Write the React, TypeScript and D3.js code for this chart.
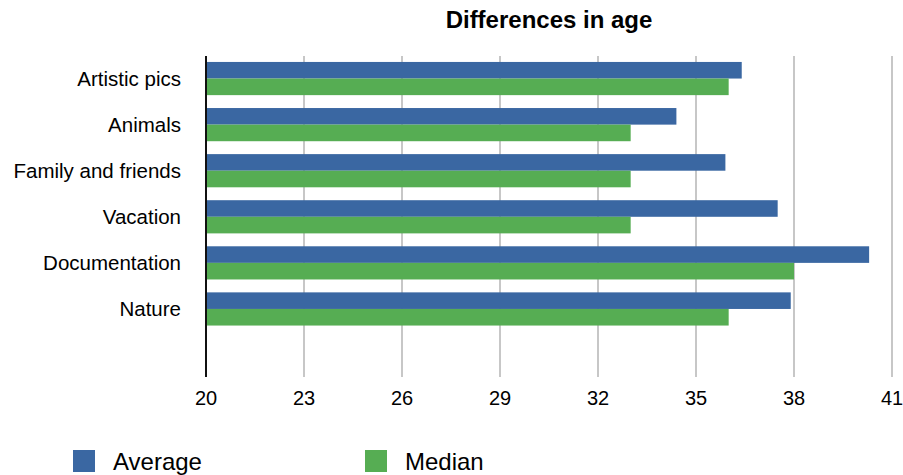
import { useEffect, useRef } from 'react';
import * as d3 from 'd3';

const categories = ['Artistic pics', 'Animals', 'Family and friends', 'Vacation', 'Documentation', 'Nature'];
const seriesNames = ['Average', 'Median'];
const averageValues = [36.4, 34.4, 35.9, 37.5, 40.3, 37.9];
const medianValues = [36, 33, 33, 33, 38, 36];
const xTicks = [20, 23, 26, 29, 32, 35, 38, 41];
const colors = ['#3a67a2', '#56ad53'];

const App = () => {
  const ref = useRef<SVGSVGElement | null>(null);

  useEffect(() => {
    if (!ref.current) return;
    const svg = d3.select(ref.current);
    svg.selectAll('*').remove();
    const width = 903;
    const height = 475;
    const font = '"Liberation Sans", Arial, Helvetica, sans-serif';

    svg.attr('width', width).attr('height', height).style('display', 'block');

    const x = d3.scaleLinear().domain([20, 41]).range([206, 892]);
    const y = d3
      .scaleBand<string>()
      .domain(categories)
      .range([55.5, 332])
      .paddingInner(0.28)
      .paddingOuter(0.14);
    const ySub = d3.scaleBand<string>().domain(seriesNames).range([0, y.bandwidth()]);

    const plotTop = 56;
    const plotBottom = 377;

    // title
    svg
      .append('text')
      .attr('x', 549)
      .attr('y', 28)
      .attr('text-anchor', 'middle')
      .attr('font-family', font)
      .attr('font-weight', 'bold')
      .attr('font-size', 24)
      .text('Differences in age');

    // grid lines
    svg
      .append('g')
      .selectAll('line')
      .data(xTicks.slice(1))
      .join('line')
      .attr('x1', (d) => x(d))
      .attr('x2', (d) => x(d))
      .attr('y1', plotTop)
      .attr('y2', plotBottom)
      .attr('stroke', '#b5b5b5')
      .attr('stroke-width', 1.5);

    // bars
    const rows = categories.map((c, i) => ({ c, vals: [averageValues[i], medianValues[i]] }));
    const groups = svg
      .append('g')
      .selectAll('g')
      .data(rows)
      .join('g')
      .attr('transform', (d) => `translate(0,${y(d.c)})`);

    groups
      .selectAll('rect')
      .data((d) => d.vals.map((v, j) => ({ v, s: seriesNames[j], j })))
      .join('rect')
      .attr('x', x(20))
      .attr('y', (d) => ySub(d.s) as number)
      .attr('width', (d) => x(d.v) - x(20))
      .attr('height', ySub.bandwidth())
      .attr('fill', (d) => colors[d.j]);

    // y axis line
    svg
      .append('line')
      .attr('x1', x(20))
      .attr('x2', x(20))
      .attr('y1', plotTop)
      .attr('y2', plotBottom)
      .attr('stroke', '#111')
      .attr('stroke-width', 2);

    // category labels
    svg
      .append('g')
      .selectAll('text')
      .data(categories)
      .join('text')
      .attr('x', 181)
      .attr('y', (d) => (y(d) as number) + y.bandwidth() / 2)
      .attr('dy', '0.35em')
      .attr('text-anchor', 'end')
      .attr('font-family', font)
      .attr('font-size', 20.5)
      .text((d) => d);

    // x tick labels
    svg
      .append('g')
      .selectAll('text')
      .data(xTicks)
      .join('text')
      .attr('x', (d) => x(d))
      .attr('y', 405)
      .attr('text-anchor', 'middle')
      .attr('font-family', font)
      .attr('font-size', 20)
      .text((d) => d);

    // legend
    const legendX = [73, 365];
    const legend = svg
      .append('g')
      .selectAll('g')
      .data(seriesNames)
      .join('g')
      .attr('transform', (_d, i) => `translate(${legendX[i]},450)`);
    legend
      .append('rect')
      .attr('width', 22)
      .attr('height', 22)
      .attr('fill', (_d, i) => colors[i]);
    legend
      .append('text')
      .attr('x', 40)
      .attr('y', 19.5)
      .attr('font-family', font)
      .attr('font-size', 24)
      .text((d) => d);
  }, []);

  return <svg ref={ref} style={{ position: 'absolute', left: 0, top: 0 }} />;
};

export default App;
